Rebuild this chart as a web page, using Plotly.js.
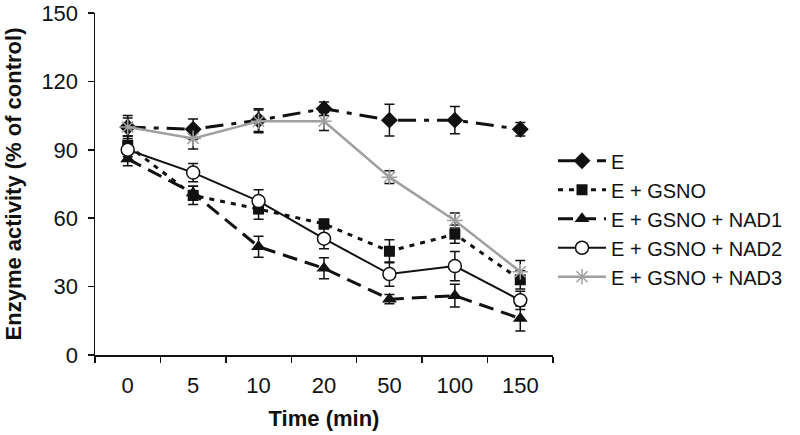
<!DOCTYPE html>
<html>
<head>
<meta charset="utf-8">
<script src="https://cdn.plot.ly/plotly-3.0.1.min.js"></script>
<style>html,body{margin:0;padding:0;background:#fff;}#chart{width:800px;height:435px;}</style>
</head>
<body>
<div id="chart"></div>
<script>
const times = ["0","5","10","20","50","100","150"];

const seriesNames = ["E","E + GSNO","E + GSNO + NAD1","E + GSNO + NAD2","E + GSNO + NAD3"];

const valE    = [100, 99, 103, 108, 103, 103, 99];
const errE    = [5, 4.5, 5, 3, 7, 6, 3];

const valGSNO = [92, 70, 64, 57.5, 45.5, 53, 33];
const errGSNO = [4, 4, 4.5, 2, 5, 4, 4];

const valNAD1 = [86, 71, 47.5, 38, 24.5, 26, 16];
const errNAD1 = [3, 3, 4.6, 4.6, 2, 5, 5.5];

const valNAD2 = [90, 80, 67.5, 51, 35.5, 39, 24];
const errNAD2 = [3, 4, 5, 4.4, 5.3, 6.4, 4];

const valNAD3 = [100, 95, 102.5, 102.5, 78, 59, 36.5];
const errNAD3 = [4, 4.7, 5, 4, 2.8, 3.3, 5];

const black = "#111111";
const gray = "#a0a0a0";

function errBar(arr, color) {
  return {type: "data", array: arr, visible: true, color: color, thickness: 1.5, width: 5};
}

const traces = [
  {
    x: times, y: valE, name: seriesNames[0], mode: "lines+markers",
    line: {color: black, width: 3, dash: "18px,8px,5px,8px"},
    marker: {symbol: "diamond", size: 13, color: black},
    error_y: errBar(errE, black)
  },
  {
    x: times, y: valGSNO, name: seriesNames[1], mode: "lines+markers",
    line: {color: black, width: 3, dash: "5px,6px"},
    marker: {symbol: "square", size: 11, color: black},
    error_y: errBar(errGSNO, black)
  },
  {
    x: times, y: valNAD1, name: seriesNames[2], mode: "lines+markers",
    line: {color: black, width: 3, dash: "15px,8px"},
    marker: {symbol: "triangle-up", size: 13, color: black},
    error_y: errBar(errNAD1, black)
  },
  {
    x: times, y: valNAD2, name: seriesNames[3], mode: "lines+markers",
    line: {color: black, width: 2},
    marker: {symbol: "circle", size: 13, color: "#ffffff", line: {color: black, width: 1.5}},
    error_y: errBar(errNAD2, black)
  },
  {
    x: times, y: valNAD3, name: seriesNames[4], mode: "lines+markers",
    line: {color: gray, width: 2.5},
    marker: {symbol: "asterisk-open", size: 13, color: gray, line: {color: gray, width: 1.5}},
    error_y: errBar(errNAD3, black)
  }
];

const layout = {
  width: 800, height: 435,
  margin: {l: 95, r: 239, t: 13, b: 80},
  paper_bgcolor: "#ffffff", plot_bgcolor: "#ffffff",
  font: {family: "Liberation Sans, Arial, sans-serif", size: 20, color: "#111"},
  showlegend: true,
  legend: {
    x: 1.0, xanchor: "left", y: 0.625, yanchor: "top",
    font: {size: 20, color: "#111"},
    itemwidth: 48, tracegroupgap: 0, bgcolor: "rgba(0,0,0,0)", borderwidth: 0
  },
  xaxis: {
    type: "category", range: [-0.5, 6.5],
    showline: true, linecolor: black, linewidth: 1.5,
    ticks: "outside", tickson: "boundaries", ticklen: 6, tickcolor: black, tickwidth: 1.5,
    showgrid: false, zeroline: false, automargin: false,
    tickfont: {size: 22}, ticklabelstandoff: 10,
    title: {text: "<b>Time (min)</b>", font: {size: 22}, standoff: 13}
  },
  yaxis: {
    range: [0, 150], tickvals: [0, 30, 60, 90, 120, 150],
    showline: true, linecolor: black, linewidth: 1.5,
    ticks: "outside", ticklen: 6, tickcolor: black, tickwidth: 1.5,
    showgrid: false, zeroline: false, automargin: false,
    tickfont: {size: 22}, ticklabelstandoff: 5,
    title: {text: "<b>Enzyme activity (% of control)</b>", font: {size: 22}, standoff: 13}
  }
};

Plotly.newPlot("chart", traces, layout, {displayModeBar: false, staticPlot: true});
</script>
</body>
</html>
